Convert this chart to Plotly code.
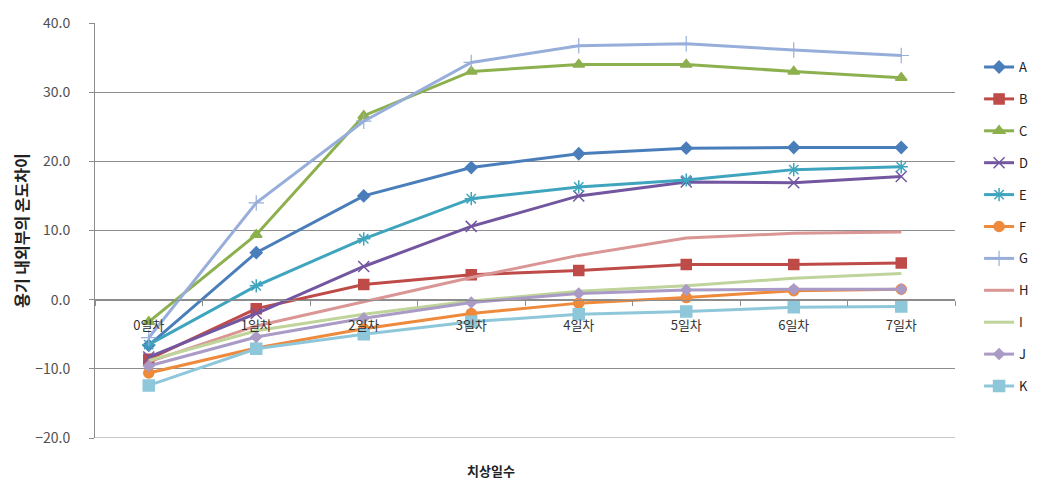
import plotly.graph_objects as go

categories = ["0일차", "1일차", "2일차", "3일차", "4일차", "5일차", "6일차", "7일차"]
A = [-6.6, 6.8, 15.0, 19.1, 21.1, 21.9, 22.0, 22.0]
B = [-8.6, -1.3, 2.2, 3.6, 4.2, 5.1, 5.1, 5.3]
C = [-3.2, 9.4, 26.6, 33.0, 34.0, 34.0, 33.0, 32.1]
D = [-8.3, -2.0, 4.8, 10.6, 15.0, 17.0, 16.9, 17.8]
E = [-6.5, 2.0, 8.8, 14.6, 16.3, 17.3, 18.8, 19.2]
F = [-10.6, -7.0, -4.2, -2.0, -0.5, 0.3, 1.3, 1.5]
G = [-5.5, 14.0, 25.8, 34.3, 36.7, 37.0, 36.1, 35.3]
H = [-9.0, -3.8, -0.3, 3.2, 6.4, 8.9, 9.6, 9.8]
I = [-8.8, -4.5, -2.1, -0.2, 1.2, 2.0, 3.1, 3.8]
J = [-9.6, -5.4, -2.7, -0.4, 0.9, 1.4, 1.5, 1.5]
K = [-12.4, -7.1, -5.0, -3.2, -2.1, -1.7, -1.1, -1.0]

series_names = ["A", "B", "C", "D", "E", "F", "G", "H", "I", "J", "K"]
series_values = [A, B, C, D, E, F, G, H, I, J, K]
colors = ["#4A7EBB", "#BE4B48", "#8DB04E", "#7356A0", "#3FA5BE", "#EE8A3C",
          "#98AEDA", "#D99694", "#BFD49A", "#A99BC6", "#8EC7DA"]
symbols = ["diamond", "square", "triangle-up", "x-thin", "asterisk", "circle",
           "cross-thin", None, None, "diamond", "square"]
sizes = [9, 10, 10, 11, 11, 10, 11, 0, 0, 8, 11]

FONT = "Noto Sans CJK KR"

fig = go.Figure()
for name, vals, col, sym, sz in zip(series_names, series_values, colors, symbols, sizes):
    if sym is None:
        mode = "lines"
        marker = dict()
    else:
        mode = "lines+markers"
        marker = dict(symbol=sym, size=sz, color=col,
                      line=dict(color=col, width=1.2 if sym == "cross-thin" else 1.5))
    fig.add_trace(go.Scatter(
        x=categories, y=vals, name=name, mode=mode,
        line=dict(color=col, width=3), marker=marker,
        legendgroup=name,
    ))

fig.update_layout(
    width=1046, height=490,
    margin=dict(l=95, r=89, t=23, b=52),
    paper_bgcolor="white", plot_bgcolor="white",
    font=dict(family=FONT, size=13, color="#404040"),
    legend=dict(x=1.028, xanchor="left", y=0.93, yanchor="top",
                tracegroupgap=12, font=dict(size=13, color="#222222"),
                itemwidth=30),
    xaxis=dict(type="category", range=[-0.5, 7.5], anchor="free", position=1/3,
               showline=True, linecolor="#8C8C8C", linewidth=1,
               ticks="outside", tickson="boundaries", ticklen=5, tickcolor="#8C8C8C",
               showgrid=False, ticklabelstandoff=14,
               tickfont=dict(size=13, color="#333333")),
    yaxis=dict(range=[-20, 40], dtick=10, tickformat=".1f",
               showline=True, linecolor="#8C8C8C", linewidth=1,
               ticks="outside", ticklen=5, tickcolor="#8C8C8C",
               showgrid=True, gridcolor="#8C8C8C", gridwidth=1,
               zeroline=False, ticklabelstandoff=16,
               tickfont=dict(size=14, color="#505050"),
               title=dict(text="<b>용기 내외부의 온도차이</b>",
                          font=dict(size=16, color="#222222"), standoff=2)),
    showlegend=True,
)

# bottom border gridline at the axis minimum
fig.add_shape(type="line", xref="paper", yref="y", x0=0, x1=1, y0=-20, y1=-20,
              line=dict(color="#8C8C8C", width=1), layer="below")

fig.add_annotation(text="<b>치상일수</b>", xref="paper", yref="paper",
                   x=0.46, y=-0.078, yanchor="middle", showarrow=False,
                   font=dict(size=13, color="#222222", family=FONT))

fig.write_html("out.html")
